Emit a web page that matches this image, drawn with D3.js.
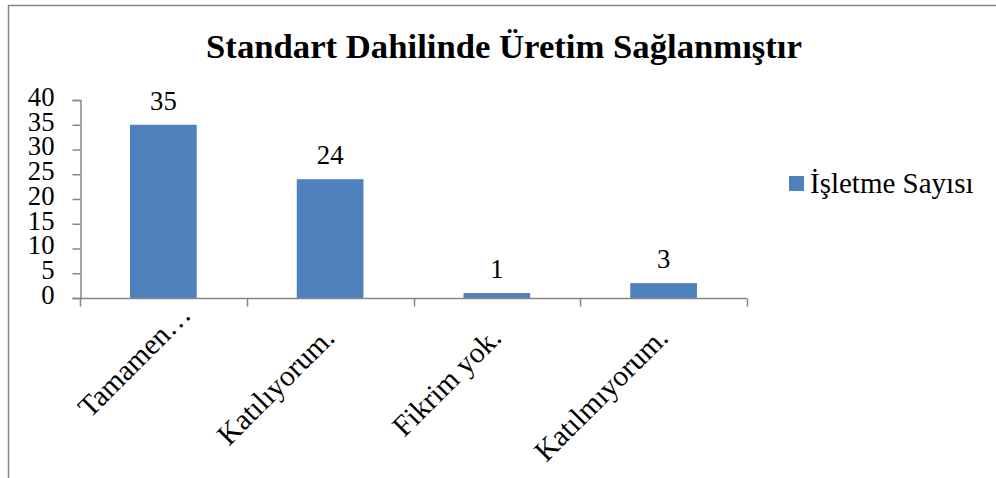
<!DOCTYPE html>
<html>
<head>
<meta charset="utf-8">
<script src="https://cdn.jsdelivr.net/npm/d3@7"></script>
<style>
  body { margin: 0; background: #fff; }
  text { font-family: "Liberation Serif", "Times New Roman", serif; fill: #000; }
</style>
</head>
<body>
<svg class="chart"></svg>
<script>
// chart data
let categories = ['Tamamen…', 'Katılıyorum.', 'Fikrim yok.', 'Katılmıyorum.'];
let values = [35, 24, 1, 3];
let yTicks = [0, 5, 10, 15, 20, 25, 30, 35, 40];
let seriesName = 'İşletme Sayısı';
let title = 'Standart Dahilinde Üretim Sağlanmıştır';

let W = 996, H = 478;
let margin = { top: 100, left: 80 };
let plotW = 667, plotH = 198;
let axisColor = '#868686';
let barColor = '#4F81BD';

let svg = d3.select('.chart')
    .attr('width', W)
    .attr('height', H);

// outer chart border (runs past the picture on right/bottom)
svg.append('rect')
    .attr('x', 8.5).attr('y', 5.5)
    .attr('width', 1000).attr('height', 500)
    .attr('fill', 'none')
    .attr('stroke', axisColor)
    .attr('stroke-width', 1.5);

svg.append('text')
    .attr('x', 504).attr('y', 58)
    .attr('text-anchor', 'middle')
    .style('font-size', '34.7px')
    .style('font-weight', 'bold')
    .text(title);

let chart = svg.append('g')
    .attr('transform', `translate(${margin.left},${margin.top})`);

let x = d3.scaleBand()
    .domain(categories)
    .range([0, plotW])
    .paddingInner(0.6)
    .paddingOuter(0.3);

let y = d3.scaleLinear()
    .domain([0, 40])
    .range([plotH, 0]);

// bars
chart.selectAll('.bar')
    .data(values)
  .enter().append('rect')
    .attr('class', 'bar')
    .attr('x', (d, i) => x(categories[i]))
    .attr('y', d => y(d))
    .attr('width', x.bandwidth())
    .attr('height', d => plotH - y(d))
    .attr('fill', barColor);

// value labels
chart.selectAll('.val')
    .data(values)
  .enter().append('text')
    .attr('class', 'val')
    .attr('x', (d, i) => x(categories[i]) + x.bandwidth() / 2)
    .attr('y', d => y(d) - 15)
    .attr('text-anchor', 'middle')
    .style('font-size', '26.7px')
    .text(d => d);

// y axis
let yAxis = d3.axisLeft(y)
    .tickValues(yTicks)
    .tickSize(8)
    .tickPadding(18);

let gy = chart.append('g')
    .attr('transform', 'translate(0.5,0)')
    .call(yAxis);
gy.select('.domain').attr('stroke', axisColor).attr('stroke-width', 1.5);
gy.selectAll('.tick line').attr('stroke', axisColor).attr('stroke-width', 1.5);
gy.selectAll('.tick text')
    .attr('dy', '0.2em')
    .style('font-size', '26.7px')
    .style('font-family', '"Liberation Serif", serif');

// x axis: ticks sit on category boundaries
let step = x.step();
let gx = chart.append('g')
    .attr('transform', `translate(0,${plotH + 0.5})`);
gx.append('line')
    .attr('x1', 0).attr('x2', plotW)
    .attr('stroke', axisColor).attr('stroke-width', 1.5);
gx.selectAll('.xtick')
    .data(d3.range(categories.length + 1))
  .enter().append('line')
    .attr('class', 'xtick')
    .attr('x1', i => Math.round(i * step) + 0.5)
    .attr('x2', i => Math.round(i * step) + 0.5)
    .attr('y1', 0).attr('y2', 8)
    .attr('stroke', axisColor).attr('stroke-width', 1.5);

gx.selectAll('.xlab')
    .data(categories)
  .enter().append('text')
    .attr('class', 'xlab')
    .attr('transform', d => `translate(${x(d) + x.bandwidth() / 2 + 6},41) rotate(-45)`)
    .attr('dx', d => d.endsWith('…') ? 33 : 0)
    .attr('text-anchor', 'end')
    .style('font-size', '29.5px')
    .text(d => d);

// legend
let legend = svg.append('g')
    .attr('transform', 'translate(789,176)');
legend.append('rect')
    .attr('width', 15).attr('height', 15)
    .attr('fill', barColor);
legend.append('text')
    .attr('x', 21).attr('y', 17)
    .style('font-size', '29px')
    .text(seriesName);
</script>
</body>
</html>
